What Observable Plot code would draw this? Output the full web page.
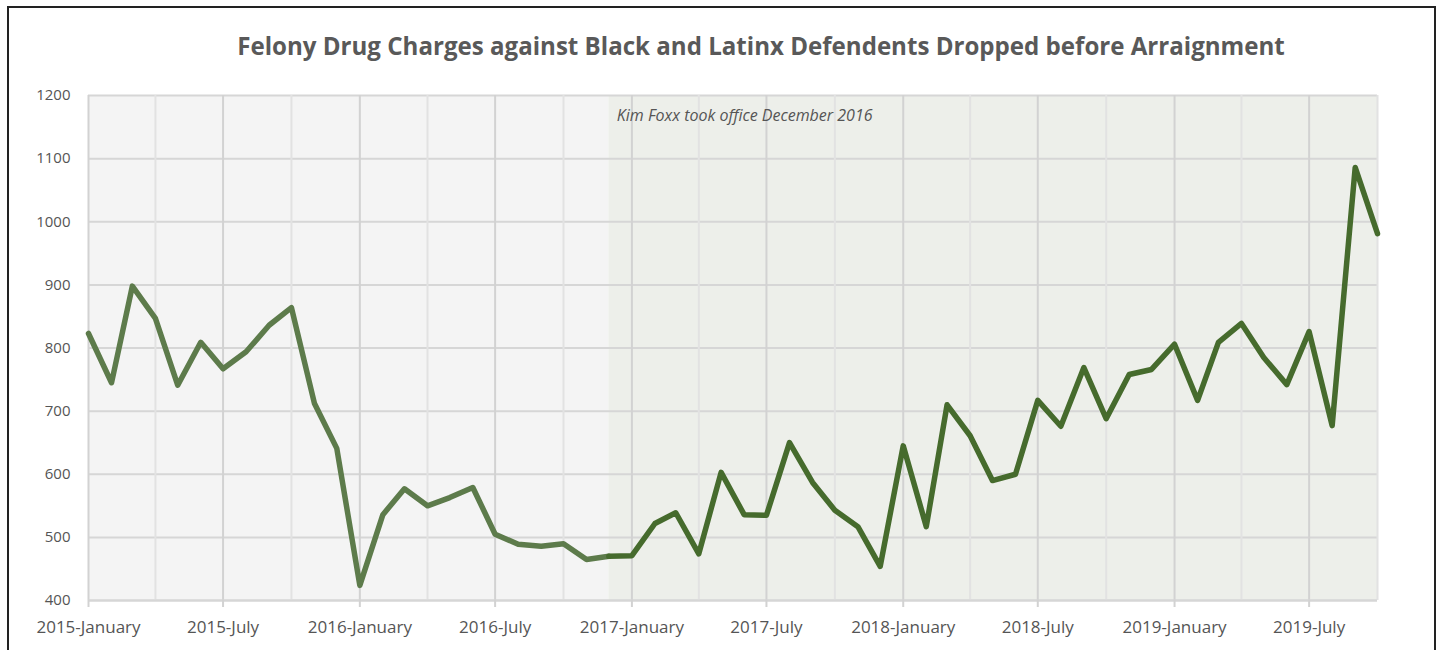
<!DOCTYPE html>
<html>
<head>
<meta charset="utf-8">
<script src="https://cdn.jsdelivr.net/npm/d3@7"></script>
<script src="https://cdn.jsdelivr.net/npm/@observablehq/plot@0.6"></script>
<style>
  html, body { margin: 0; padding: 0; background: #fff; width: 1447px; height: 650px; overflow: hidden; }
  #frame { position: absolute; left: 7px; top: 6px; width: 1429px; height: 700px; border: 2.5px solid #222; box-sizing: border-box; }
  #title { position: absolute; left: 0; top: 29px; width: 1522px; text-align: center; font-family: "Open Sans", sans-serif; font-weight: 700; font-size: 24.1px; color: #595959; }
  #chart { position: absolute; left: 0; top: 75px; }
</style>
</head>
<body>
<div id="frame"></div>
<div id="title">Felony Drug Charges against Black and Latinx Defendents Dropped before Arraignment</div>
<div id="chart"></div>
<script>
// Monthly counts, 2015-January .. 2019-October
const startMonth = "2015-01";
const values = [
  823, 745, 898, 847, 741, 809, 767, 794, 836, 864, 712, 641,
  424, 536, 577, 550, 563, 579, 505, 489, 486, 490, 465, 470,
  471, 522, 539, 474, 603, 536, 535, 650, 587, 543, 517, 454,
  645, 517, 710, 661, 590, 600, 717, 676, 769, 688, 758, 766,
  806, 717, 809, 839, 785, 742, 826, 677, 1086, 981
];
const yTicks = [400, 500, 600, 700, 800, 900, 1000, 1100, 1200];
const annotationText = "Kim Foxx took office December 2016";
const officeMonth = "2016-12";
const endMonth = "2019-10";

const parse = d3.utcParse("%Y-%m");
const t0 = parse(startMonth);
const data = values.map((v, i) => ({date: d3.utcMonth.offset(t0, i), value: v}));
const tOffice = parse(officeMonth);
const tEnd = parse(endMonth);
const before = data.filter(d => d.date <= tOffice);
const after = data.filter(d => d.date >= tOffice);

const eras = [
  {x1: t0, x2: tOffice, fill: "#f4f4f4"},
  {x1: tOffice, x2: tEnd, fill: "#edefea"}
];
const labelTicks = d3.utcMonth.every(6).range(t0, d3.utcMonth.offset(tEnd, 1));
const quarterTicks = d3.utcMonth.every(3).range(t0, d3.utcMonth.offset(tEnd, 1)).filter(d => d.getUTCMonth() % 6 !== 0);

const chart = Plot.plot({
  width: 1447,
  height: 575,
  marginLeft: 88,
  marginRight: 70,
  marginTop: 20,
  marginBottom: 50,
  style: {fontFamily: "'Open Sans', sans-serif", color: "#555", background: "transparent"},
  x: {type: "utc", domain: [t0, tEnd]},
  y: {domain: [400, 1200]},
  marks: [
    Plot.rectY(eras, {x1: "x1", x2: "x2", y1: 400, y2: 1200, fill: "fill"}),
    Plot.gridY(yTicks, {stroke: "#d6d6d6", strokeOpacity: 1, strokeWidth: 2}),
    Plot.gridX(quarterTicks, {stroke: "#e2e2e2", strokeOpacity: 1, strokeWidth: 2}),
    Plot.gridX(labelTicks, {stroke: "#d2d2d2", strokeOpacity: 1, strokeWidth: 2}),
    Plot.ruleY([400], {stroke: "#d6d6d6", strokeWidth: 2}),
    Plot.axisY({ticks: yTicks, tickSize: 0, tickPadding: 18, fontSize: 15, label: null, color: "#555", tickFormat: d3.format("d")}),
    Plot.axisX({ticks: labelTicks, tickSize: 7, tickPadding: 13, fontSize: 17, label: null, tickFormat: d3.utcFormat("%Y-%B"), stroke: "#d2d2d2", strokeWidth: 2, fill: "#555"}),
    Plot.text([annotationText], {x: tOffice, y: 1200, frameAnchor: "top", dx: 8, dy: 14, textAnchor: "start", fontStyle: "italic", fontSize: 16, fill: "#555"}),
    Plot.line(before, {x: "date", y: "value", stroke: "#5d7b4b", strokeWidth: 5.5}),
    Plot.line(after, {x: "date", y: "value", stroke: "#466b2d", strokeWidth: 5.5})
  ]
});
document.getElementById("chart").appendChild(chart);
</script>
</body>
</html>
